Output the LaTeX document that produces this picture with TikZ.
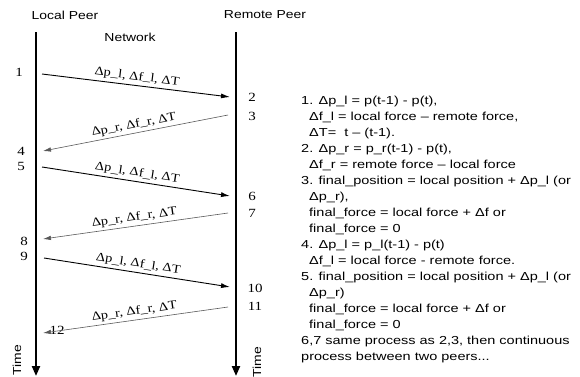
\documentclass[tikz,border=0pt]{standalone}
\usepackage{fontspec}
\setmainfont{Liberation Serif}
\newfontfamily\sansw[FakeStretch=1.2]{Liberation Sans}
\newfontfamily\sanswide[FakeStretch=1.25]{Liberation Sans}
\newfontfamily\serifw[FakeStretch=1.2]{Liberation Serif}
\usetikzlibrary{positioning, arrows.meta, calc}

\tikzset{
  peer/.style={font=\sansw\fontsize{11.6}{14}\selectfont},
  num/.style={font=\serifw\fontsize{12.5}{15}\selectfont, inner sep=0pt},
  lifeline/.style={line width=2.2pt, -{Triangle[length=10pt,width=8pt]}},
  msgfwd/.style={line width=0.9pt, -{Latex[length=9pt,width=5pt]}},
  msgback/.style={black!65, line width=0.6pt, -{Latex[length=8pt,width=4.5pt]}},
  msglabel/.style={sloped, above=2.5pt, inner sep=0pt, text=black,
    font=\serifw\fontsize{12}{14}\selectfont},
  note/.style={font=\sanswide\fontsize{11.6}{16}\selectfont, align=left, inner sep=0pt}
}

\begin{document}
\begin{tikzpicture}[x=1pt, y=-1pt]
        \useasboundingbox (0,0) rectangle (580,376);
        % Peers and time lines
        \node[peer] (lpeer) at (65,15) {Local Peer};
        \node[peer] (rpeer) at (265,15) {Remote Peer};
        \node[peer] (net) at (130,37) {Network};
        \coordinate (ltop) at (36,32);
        \coordinate (lbot) at (36,376);
        \coordinate (rtop) at (236,32);
        \coordinate (rbot) at (236,376);
        \draw[lifeline] (ltop) -- (lbot);
        \draw[lifeline] (rtop) -- (rbot);
        \node[peer, rotate=90] (timel) at (17,360) {Time};
        \node[peer, rotate=90] (timer) at (257,362) {Time};
        % Step numbers
        \node[num] (n1) at (19,72) {1};
        \node[num] (n2) at (252,97) {2};
        \node[num] (n3) at (252,116) {3};
        \node[num] (n4) at (21,151) {4};
        \node[num] (n5) at (21,166) {5};
        \node[num] (n6) at (252,196) {6};
        \node[num] (n7) at (252,213) {7};
        \node[num] (n8) at (24,241) {8};
        \node[num] (n9) at (24,256) {9};
        \node[num] (n10) at (255,288) {10};
        \node[num] (n11) at (255,306) {11};
        \node[num] (n12) at (57,330) {12};
        % Message ends
        \coordinate (s1) at (42,74);   \coordinate (e2) at (230,97);
        \coordinate (s3) at (228,115); \coordinate (e4) at (43,151);
        \coordinate (s5) at (42,167);  \coordinate (e6) at (230,196);
        \coordinate (s7) at (228,213); \coordinate (e8) at (43,239);
        \coordinate (s9) at (44,258);  \coordinate (e10) at (230,287);
        \coordinate (s11) at (228,307);\coordinate (e12) at (43,333);
        % Messages
        \draw[msgfwd] (s1) -- node[msglabel]{Δp\_l, Δf\_l, ΔT} (e2);
        \draw[msgback] (s3) -- node[msglabel]{Δp\_r, Δf\_r, ΔT} (e4);
        \draw[msgfwd] (s5) -- node[msglabel]{Δp\_l, Δf\_l, ΔT} (e6);
        \draw[msgback] (s7) -- node[msglabel]{Δp\_r, Δf\_r, ΔT} (e8);
        \draw[msgfwd] (s9) -- node[msglabel]{Δp\_l, Δf\_l, ΔT} (e10);
        \draw[msgback] (s11) -- node[msglabel]{Δp\_r, Δf\_r, ΔT} (e12);
        % Steps
        \node[note, anchor=north west] (steps) at (301,96) {1. Δp\_l = p(t-1) - p(t),\\
          \hspace*{8pt}Δf\_l = local force – remote force,\\
          \hspace*{8pt}ΔT=\ \ t – (t-1).\\
          2. Δp\_r = p\_r(t-1) - p(t),\\
          \hspace*{8pt}Δf\_r = remote force – local force\\
          3. final\_position = local position + Δp\_l (or\\
          \hspace*{8pt}Δp\_r),\\
          \hspace*{8pt}final\_force = local force + Δf or\\
          \hspace*{8pt}final\_force = 0\\
          4. Δp\_l = p\_l(t-1) - p(t)\\
          \hspace*{8pt}Δf\_l = local force - remote force.\\
          5. final\_position = local position + Δp\_l (or\\
          \hspace*{8pt}Δp\_r)\\
          \hspace*{8pt}final\_force = local force + Δf or\\
          \hspace*{8pt}final\_force = 0\\
          6,7 same process as 2,3, then continuous\\
          process between two peers...};
\end{tikzpicture}
\end{document}
